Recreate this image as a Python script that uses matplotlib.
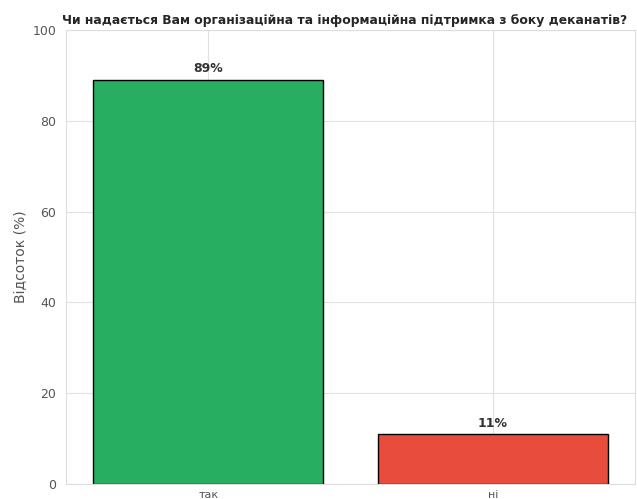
import matplotlib
matplotlib.use("Agg")
import matplotlib.pyplot as plt
import seaborn as sns

categories = ["так", "ні"]
percents = [89, 11]
colors = ["#27ae60", "#e74c3c"]

sns.set_style("whitegrid")
plt.rcParams['font.family'] = ['DejaVu Sans']

fig = plt.figure(figsize=(6.37, 4.99), dpi=100)
ax = fig.add_axes([66 / 637, 15 / 499, 569 / 637, 454 / 499])

bars = ax.bar(categories, percents, color=colors, edgecolor="black", linewidth=1, width=0.81)
for b, v in zip(bars, percents):
    ax.text(b.get_x() + b.get_width() / 2, v + 1, f"{v}%", ha="center", va="bottom",
            fontsize=9, fontweight="bold", color="#333333")

ax.set_xlim(-0.5, 1.5)
ax.set_ylim(0, 100)
ax.set_ylabel("Відсоток (%)", fontsize=10, color="#555555")
ax.set_title("Чи надається Вам організаційна та інформаційна підтримка з боку деканатів?",
             fontsize=8.9, fontweight="bold", pad=4, x=0.49)
ax.tick_params(axis="y", labelsize=9, colors="#555555")
ax.tick_params(axis="x", labelsize=8, colors="#555555", pad=0.5)
ax.grid(True, color="#e0e0e0")
for s in ax.spines.values():
    s.set_color("#dddddd")

fig.savefig("out.png", dpi=100)
